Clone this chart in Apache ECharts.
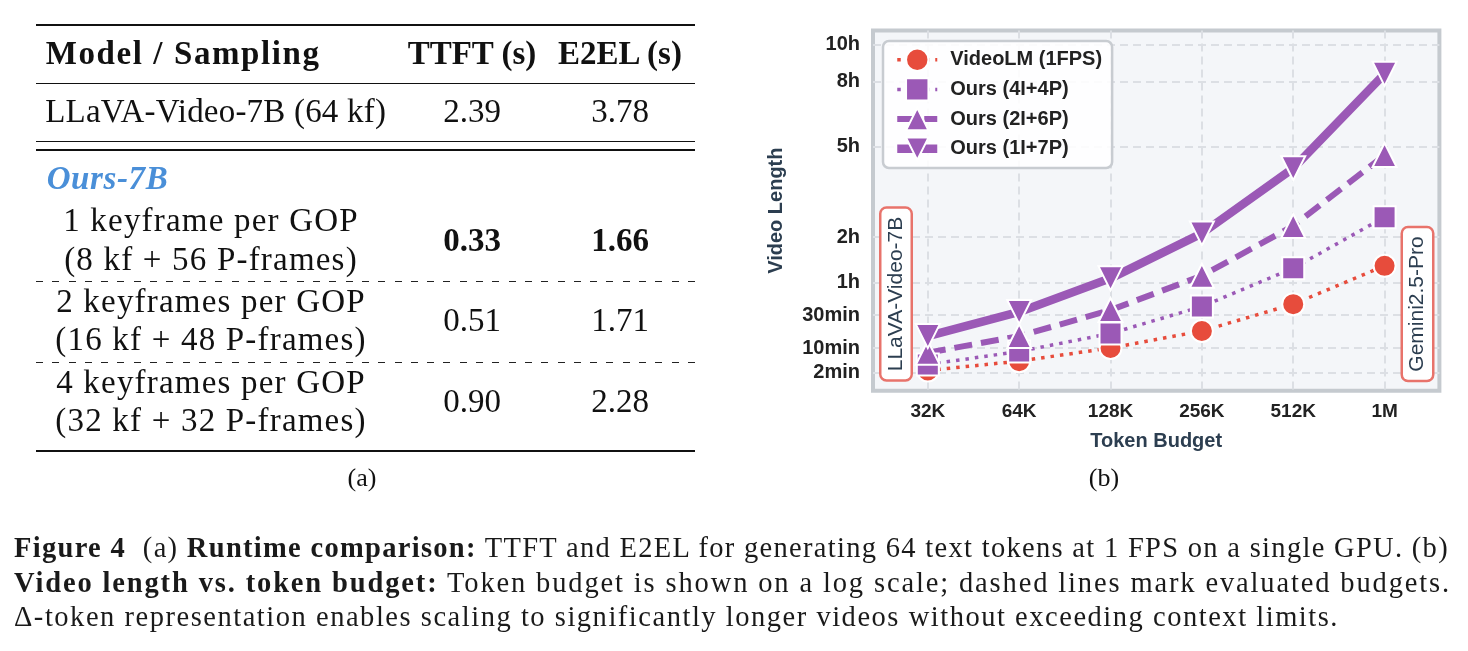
<!DOCTYPE html>
<html>
<head>
<meta charset="utf-8">
<title>Figure 4</title>
<script src="https://cdn.jsdelivr.net/npm/echarts@6/dist/echarts.min.js"></script>
<style>
  html, body { margin: 0; padding: 0; background: #fff; }
  #page { position: relative; width: 1468px; height: 651px; overflow: hidden; }
  #chart { position: absolute; left: 0; top: 0; width: 1468px; height: 651px; }
  .t { position: absolute; font-family: 'Liberation Serif', serif; font-size: 33px; line-height: 33px;
       color: #111; white-space: nowrap; transform: translateY(-50%); }
  .c { transform: translate(-50%, -50%); }
  .b { font-weight: bold; }
  .sub { letter-spacing: 1.2px; }
  .rule { position: absolute; left: 36px; width: 659px; background: #111; }
  .dash { position: absolute; left: 36px; width: 659px; height: 1.3px;
          background: repeating-linear-gradient(to right, #222 0 7px, transparent 7px 16.3px); }
  .cap { position: absolute; left: 14px; font-family: 'Liberation Serif', serif; font-size: 28.5px;
         line-height: 34px; color: #1a1a1a; white-space: nowrap; transform: translateY(-50%); }
</style>
</head>
<body>
<div id="page">
  <div id="chart"></div>
  <div id="table"></div>
  <div id="caption"></div>
</div>
<script>
// ---- table (a) ----
var tableHeader = ['Model / Sampling', 'TTFT (s)', 'E2EL (s)'];
var baselineRow = ['LLaVA-Video-7B (64 kf)', '2.39', '3.78'];
var groupLabel = 'Ours-7B';
var oursRows = [
  ['1 keyframe per GOP', '(8 kf + 56 P-frames)', '0.33', '1.66'],
  ['2 keyframes per GOP', '(16 kf + 48 P-frames)', '0.51', '1.71'],
  ['4 keyframes per GOP', '(32 kf + 32 P-frames)', '0.90', '2.28'],
];
var bestRow = 0;

// ---- chart (b) ----
var budgets = ['32K', '64K', '128K', '256K', '512K', '1M'];
// video length in minutes
var videoLM = [2.5, 5, 10, 19, 39, 80];
var ours4I4P = [4, 8.5, 17.5, 37, 77, 153];
var ours2I6P = [8, 16, 34, 68, 138, 280];
var ours1I7P = [16, 32.5, 65, 126, 250, 504];
var yTickMinutes = [2, 10, 30, 60, 120, 300, 480, 600];
var yTickLabels = ['2min', '10min', '30min', '1h', '2h', '5h', '8h', '10h'];

// caption
var captionLines = [
  '<b>Figure 4</b>&nbsp; (a) <b>Runtime comparison:</b> TTFT and E2EL for generating 64 text tokens at 1 FPS on a single GPU. (b)',
  '<b>Video length vs. token budget:</b> Token budget is shown on a log scale; dashed lines mark evaluated budgets.',
  '\u0394-token representation enables scaling to significantly longer videos without exceeding context limits.'
];
var captionWidths = [1435, 1437, 1325];

// build the table
var colX = [46.7, 472, 620];
var subX = 211;
var html = '';
function txt(s, x, y, cls, style) {
  return '<div class="t ' + (cls || '') + '" style="left:' + x + 'px;top:' + y + 'px;' + (style || '') + '">' + s + '</div>';
}
html += '<div class="rule" style="top:24px;height:2px"></div>';
html += txt(tableHeader[0], colX[0] - 1, 53, 'b', 'letter-spacing:1.6px');
html += txt(tableHeader[1], colX[1], 53, 'b c');
html += txt(tableHeader[2], colX[2], 53, 'b c');
html += '<div class="rule" style="top:82.6px;height:1.3px"></div>';
html += txt(baselineRow[0], colX[0] - 1.5, 111, '', 'letter-spacing:0.2px');
html += txt(baselineRow[1], colX[1], 111, 'c');
html += txt(baselineRow[2], colX[2], 111, 'c');
html += '<div class="rule" style="top:141px;height:1.3px"></div>';
html += '<div class="rule" style="top:149.3px;height:1.3px"></div>';
html += txt(groupLabel, colX[0], 178, 'b', 'font-style:italic;color:#4a8fd8;letter-spacing:0.6px');
var groupTop = [220, 300.5, 381.5];
oursRows.forEach(function (r, i) {
  var y = groupTop[i];
  var cls = i === bestRow ? 'c b' : 'c';
  html += txt(r[0], subX, y, 'c sub');
  html += txt(r[1], subX, y + 38.5, 'c sub');
  html += txt(r[2], colX[1], y + 19.5, cls);
  html += txt(r[3], colX[2], y + 19.5, cls);
  if (i < oursRows.length - 1) {
    html += '<div class="dash" style="top:' + (i === 0 ? 281 : 361.8) + 'px"></div>';
  }
});
html += '<div class="rule" style="top:450px;height:2px"></div>';
html += txt('(a)', 362, 477, 'c', 'font-size:26px');
html += txt('(b)', 1104, 477, 'c', 'font-size:26px');
document.getElementById('table').innerHTML = html;

var capHtml = '';
var capY = [548, 582.5, 617];
captionLines.forEach(function (line, i) {
  capHtml += '<div class="cap" style="top:' + capY[i] + 'px">' + line + '</div>';
});
var capBox = document.getElementById('caption');
capBox.innerHTML = capHtml;
// stretch each caption line a little to the width of the original typesetting
Array.prototype.forEach.call(capBox.children, function (el, i) {
  var w = el.getBoundingClientRect().width;
  var n = el.textContent.length;
  el.style.letterSpacing = ((captionWidths[i] - w) / n).toFixed(3) + 'px';
});

// ---- ECharts ----
var myChart = echarts.init(document.getElementById('chart'));
var sansFont = '"Liberation Sans", Arial, sans-serif';
var red = '#e74c3c';
var purple = '#9b59b6';

function toPoints(arr) {
  // y axis is square-root scaled minutes
  return arr.map(function (v, i) { return [i, Math.sqrt(v)]; });
}
var yTicks = yTickMinutes.map(function (m) { return Math.sqrt(m); });
var xTicks = budgets.map(function (b, i) { return i; });

var styles = [
  { name: 'VideoLM (1FPS)', data: videoLM, color: red, symbol: 'circle', size: 22, line: { width: 3.5, type: [3.5, 6] } },
  { name: 'Ours (4I+4P)', data: ours4I4P, color: purple, symbol: 'rect', size: 22, line: { width: 3.5, type: [3.5, 6] } },
  { name: 'Ours (2I+6P)', data: ours2I6P, color: purple, symbol: 'triangle', size: 24, line: { width: 6, type: [18, 9] } },
  { name: 'Ours (1I+7P)', data: ours1I7P, color: purple, symbol: 'triangle', size: 24, line: { width: 8.5, type: 'solid' }, rotate: 180 }
];

var series = styles.map(function (s) {
  return {
    name: s.name,
    type: 'line',
    data: toPoints(s.data),
    symbol: s.symbol,
    symbolSize: s.size,
    symbolRotate: s.rotate || 0,
    showAllSymbol: true,
    clip: false,
    lineStyle: Object.assign({ color: s.color }, s.line),
    itemStyle: { color: s.color, borderColor: '#fff', borderWidth: 2 },
    emphasis: { disabled: true },
    animation: false
  };
});

var option = {
  animation: false,
  grid: {
    show: true,
    left: 873, right: 28.6, top: 30.5, bottom: 260.2,
    backgroundColor: '#f4f6f9',
    borderColor: '#c5cacf',
    borderWidth: 4
  },
  legend: {
    orient: 'vertical',
    left: 883, top: 41,
    itemWidth: 40, itemHeight: 28, itemGap: 5.3,
    padding: [6.5, 10, 7, 10],
    backgroundColor: 'rgba(255,255,255,0.88)',
    borderColor: '#c8ccd1', borderWidth: 2.5, borderRadius: 6,
    textStyle: { fontFamily: sansFont, fontWeight: 'bold', fontSize: 20, color: '#222', padding: [0, 0, 0, 8] },
    data: styles.map(function (s) {
      return { name: s.name, lineStyle: { width: s.line.width, type: s.line.type } };
    })
  },
  xAxis: {
    type: 'value',
    min: -0.6, max: 5.6,
    name: 'Token Budget',
    nameLocation: 'middle',
    nameGap: 41,
    nameTextStyle: { fontFamily: sansFont, fontWeight: 'bold', fontSize: 20, color: '#2c3e50', verticalAlign: 'top' },
    axisLine: { show: false },
    axisTick: { show: false, customValues: xTicks },
    axisLabel: {
      customValues: xTicks,
      margin: 11,
      fontFamily: sansFont, fontWeight: 'bold', fontSize: 19, color: '#222',
      formatter: function (v) { return budgets[Math.round(v)]; }
    },
    splitLine: { show: true, lineStyle: { color: '#dcdfe4', width: 2, type: [8, 5] } }
  },
  yAxis: {
    type: 'value',
    min: 0.15, max: 25.5,
    name: 'Video Length',
    nameLocation: 'middle',
    nameGap: 87,
    nameTextStyle: { fontFamily: sansFont, fontWeight: 'bold', fontSize: 20, color: '#2c3e50' },
    axisLine: { show: false },
    axisTick: { show: false, customValues: yTicks },
    axisLabel: {
      customValues: yTicks,
      margin: 13,
      fontFamily: sansFont, fontWeight: 'bold', fontSize: 20, color: '#222',
      formatter: function (v) {
        var best = 0;
        for (var i = 1; i < yTicks.length; i++) {
          if (Math.abs(yTicks[i] - v) < Math.abs(yTicks[best] - v)) best = i;
        }
        return yTickLabels[best];
      }
    },
    splitLine: { show: true, lineStyle: { color: '#dcdfe4', width: 2, type: [8, 5] } }
  },
  series: series,
  graphic: [
    {
      type: 'text', x: 896, y: 294, rotation: Math.PI / 2, z: 100,
      style: {
        text: 'LLaVA-Video-7B', fill: '#2c3e50', font: '21px "Liberation Sans", Arial, sans-serif',
        align: 'center', verticalAlign: 'middle',
        backgroundColor: '#fff', borderColor: '#e8736b', borderWidth: 2.5, borderRadius: 5, padding: [4, 8]
      }
    },
    {
      type: 'text', x: 1417.5, y: 304, rotation: Math.PI / 2, z: 100,
      style: {
        text: 'Gemini2.5-Pro', fill: '#2c3e50', font: '21px "Liberation Sans", Arial, sans-serif',
        align: 'center', verticalAlign: 'middle',
        backgroundColor: '#fff', borderColor: '#e8736b', borderWidth: 2.5, borderRadius: 5, padding: [4, 8]
      }
    }
  ]
};
myChart.setOption(option);
</script>
</body>
</html>
